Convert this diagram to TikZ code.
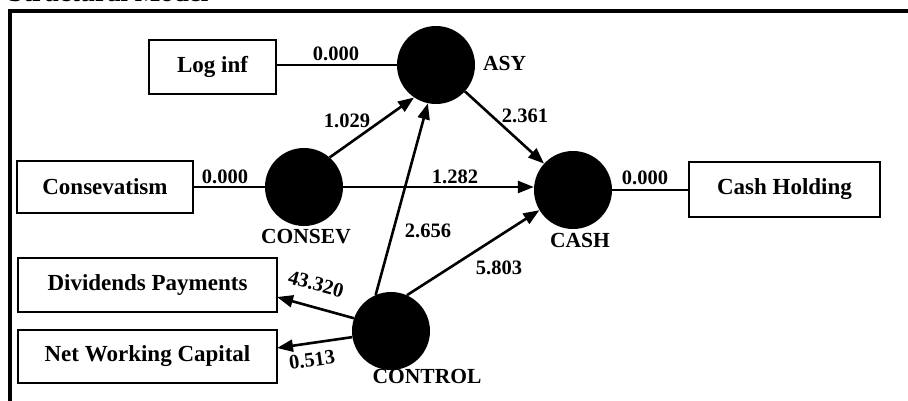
\documentclass[tikz,border=0pt]{standalone}
\usepackage{fontspec}
\setmainfont{Liberation Serif}
\usetikzlibrary{arrows.meta}
\begin{document}
\begin{tikzpicture}[x=1pt,y=-1pt,
  box/.style={draw,line width=2.8pt,inner sep=0pt,font=\fontsize{23}{26}\selectfont\bfseries},
  lv/.style={circle,fill=black,minimum size=78pt,inner sep=0pt},
  lbl/.style={font=\fontsize{21.5}{24}\selectfont\bfseries,inner sep=1pt},
  coef/.style={font=\fontsize{20.5}{23}\selectfont\bfseries,inner sep=1pt},
  conn/.style={line width=2.6pt},
  arr/.style={line width=2.6pt,-{Triangle[length=16pt,width=12pt]}}]
\useasboundingbox (0,0) rectangle (908,401);
% frame
\draw[line width=4pt] (10,401) -- (10,11.5) -- (908,11.5);
\node[anchor=base west,font=\fontsize{27}{30}\selectfont\bfseries,inner sep=0pt] (title) at (8,2) {Structural Model};
% boxes
\node[box,minimum width=127pt,minimum height=54pt] (loginf) at (212.5,67) {Log inf};
\node[box,minimum width=176pt,minimum height=52pt] (consv) at (105,187) {Consevatism};
\node[box,minimum width=259pt,minimum height=54pt] (div) at (147.5,285) {Dividends Payments};
\node[box,minimum width=259pt,minimum height=53pt] (nwc) at (147.5,356.5) {Net Working Capital};
\node[box,minimum width=191pt,minimum height=55pt] (cashh) at (784.5,189.5) {Cash Holding};
% latent variables
\node[lv] (asy) at (436,65) {};
\node[lv] (consev) at (304,187) {};
\node[lv] (cash) at (573,190) {};
\node[lv] (control) at (391,331) {};
\node[lbl,anchor=west] (asyl) at (482,63) {ASY};
\node[lbl] (consevl) at (306,237) {CONSEV};
\node[lbl] (cashl) at (580,240) {CASH};
\node[lbl] (controll) at (427,376) {CONTROL};
% connectors
\draw[conn] (loginf.east |- asy.west) -- (asy.west);
\draw[conn] (consv.east) -- (consev.west);
\draw[conn] (cash.east) -- (cashh.west |- cash.east);
\draw[arr] (consev.49) -- (asy.236);
\draw[arr] (control.113) -- (asy.258);
\draw[arr] (asy) -- (cash);
\draw[arr] (consev.east) -- (cash.west |- consev.east);
\draw[arr] (control.66) -- (cash.211);
\coordinate (divp) at (277,297);
\coordinate (nwcp) at (277,348);
\draw[arr] (control.161) -- (divp);
\draw[arr] (control.189) -- (nwcp);
% coefficients
\node[coef] (c1) at (336,54) {0.000};
\node[coef] (c2) at (347,121) {1.029};
\node[coef] (c3) at (525,116) {2.361};
\node[coef] (c4) at (225,177) {0.000};
\node[coef] (c5) at (455,177) {1.282};
\node[coef] (c6) at (645,178) {0.000};
\node[coef] (c7) at (428,231) {2.656};
\node[coef] (c8) at (499,268) {5.803};
\node[coef,rotate=-15] (c9) at (316,284) {43.320};
\node[coef,rotate=8] (c10) at (312,360) {0.513};
\end{tikzpicture}
\end{document}
